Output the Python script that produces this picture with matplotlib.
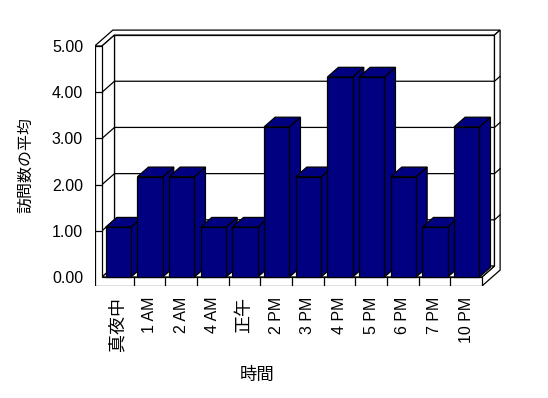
import matplotlib
matplotlib.use("Agg")
import matplotlib.pyplot as plt
from matplotlib.patches import Polygon
import numpy as np

plt.rcParams['font.family'] = ['Liberation Sans', 'Noto Sans CJK JP']

categories = ['真夜中', '1 AM', '2 AM', '4 AM', '正午', '2 PM', '3 PM',
              '4 PM', '5 PM', '6 PM', '7 PM', '10 PM']
values = [1.08, 2.17, 2.17, 1.08, 1.08, 3.25, 2.17, 4.33, 4.33, 2.17, 1.08, 3.25]
y_ticks = [0, 1, 2, 3, 4, 5]
y_tick_labels = ['0.00', '1.00', '2.00', '3.00', '4.00', '5.00']
x_title = '時間'
y_title = '訪問数の平均'

NAVY = '#000080'
n = len(categories)
ymax = y_ticks[-1]

# oblique projection: depth vector in data units
DX, DY = 0.395, 0.238
WALL = 0.23     # left wall thickness (x units)
FLOOR = 0.195   # floor thickness (y units)
BACK = 1.45     # outer depth of back wall
BAR_W, BAR_OFF, BAR_D = 0.80, 0.12, 0.88


def P(x, y, d):
    return (x + d * DX, y + d * DY)


fig = plt.figure(figsize=(5.48, 3.98), dpi=100)
ax = fig.add_axes([0.1728, 0.2814, 0.7414, 0.6447])
ax.set_xlim(-WALL, n + 0.6)
ax.set_ylim(-FLOOR, ymax + 0.36)
for s in ax.spines.values():
    s.set_visible(False)

lw = 0.9
kw = dict(facecolor='white', edgecolor='black', linewidth=lw, joinstyle='miter')

# back wall inner face
ax.add_patch(Polygon([P(0, 0, 1), P(n, 0, 1), P(n, ymax, 1), P(0, ymax, 1)], zorder=1, **kw))
# top faces (left wall + back wall)
ax.add_patch(Polygon([P(-WALL, ymax, 0), P(-WALL, ymax, BACK), P(n, ymax, BACK),
                      P(n, ymax, 1), P(0, ymax, 1), P(0, ymax, 0)], zorder=1, **kw))
# right faces (back wall + floor)
ax.add_patch(Polygon([P(n, -FLOOR, 0), P(n, -FLOOR, BACK), P(n, ymax, BACK),
                      P(n, ymax, 1), P(n, 0, 1), P(n, 0, 0)], zorder=1, **kw))
# left wall inner face
ax.add_patch(Polygon([P(0, 0, 0), P(0, 0, 1), P(0, ymax, 1), P(0, ymax, 0)], zorder=2, **kw))
# floor top
ax.add_patch(Polygon([P(0, 0, 0), P(n, 0, 0), P(n, 0, 1), P(0, 0, 1)], zorder=2, **kw))

# gridlines
for v in y_ticks[1:-1]:
    xs, ys = zip(P(0, v, 0), P(0, v, 1), P(n, v, 1), P(n, v, BACK))
    ax.plot(xs, ys, color='black', lw=lw, zorder=3, solid_joinstyle='miter')

# front L-shaped face (left wall front + floor front)
ax.add_patch(Polygon([(-WALL, -FLOOR), (n, -FLOOR), (n, 0), (0, 0), (0, ymax), (-WALL, ymax)],
                     zorder=4, **kw))
for v in y_ticks[1:-1]:
    ax.plot([-WALL, 0], [v, v], color='black', lw=lw, zorder=5)
for i in range(1, n):
    ax.plot([i, i], [-FLOOR, 0], color='black', lw=lw, zorder=5)

# bars
x0s = np.arange(n) + BAR_OFF
bars = ax.bar(x0s, values, width=BAR_W, align='edge', color=NAVY,
              edgecolor='black', linewidth=lw)
for i, (x0, h, b) in enumerate(zip(x0s, values, bars)):
    x1 = x0 + BAR_W
    z = 10 + 3 * i
    ax.add_patch(Polygon([P(x1, 0, 0), P(x1, 0, BAR_D), P(x1, h, BAR_D), P(x1, h, 0)],
                         facecolor=NAVY, edgecolor='black', linewidth=lw, zorder=z))
    ax.add_patch(Polygon([P(x0, h, 0), P(x1, h, 0), P(x1, h, BAR_D), P(x0, h, BAR_D)],
                         facecolor=NAVY, edgecolor='black', linewidth=lw, zorder=z + 1))
    b.set_zorder(z + 2)

ax.set_yticks(y_ticks, labels=y_tick_labels)
ax.set_xticks(np.arange(n) + 0.5, labels=categories, rotation=90)
ax.tick_params(axis='y', length=0, pad=8.4, labelsize=11.5)
ax.tick_params(axis='x', length=0, pad=7.7, labelsize=11.5)
for t in ax.get_xticklabels():
    t.set_verticalalignment('top')
    if not t.get_text().isascii():
        t.set_fontsize(13)

fig.text(257 / 548, 1 - 375 / 398, x_title, ha='center', va='center', fontsize=12.5)
fig.text(26 / 548, 1 - 165 / 398, y_title, ha='center', va='center', rotation=90, fontsize=11.5)

fig.savefig('out.png', dpi=100, facecolor='white')
